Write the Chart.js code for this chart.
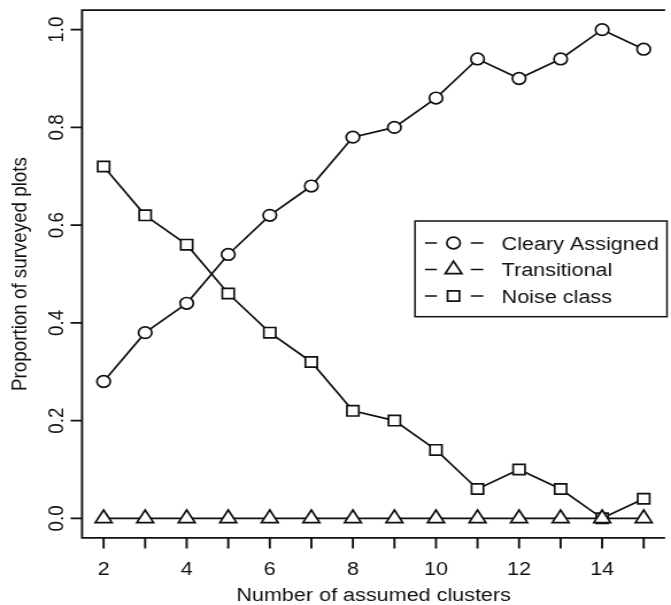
<!DOCTYPE html>
<html>
<head>
<meta charset="utf-8">
<script src="https://cdn.jsdelivr.net/npm/chart.js@4/dist/chart.umd.min.js"></script>
<style>
  html, body { margin: 0; padding: 0; background: #fff; overflow: hidden; }
  /* the reference is stretched sideways, so the canvas is drawn narrower and widened */
  #plot { display: block; width: 671px !important; height: 605px !important; }
</style>
</head>
<body>
<canvas id="plot" width="584" height="605" style="width:671px;height:605px"></canvas>
<script>
// Data
const clusters = [2, 3, 4, 5, 6, 7, 8, 9, 10, 11, 12, 13, 14, 15];
const clearlyAssigned = [0.28, 0.38, 0.44, 0.54, 0.62, 0.68, 0.78, 0.80, 0.86, 0.94, 0.90, 0.94, 1.00, 0.96];
const transitional = [0, 0, 0, 0, 0, 0, 0, 0, 0, 0, 0, 0, 0, 0];
const noiseClass = [0.72, 0.62, 0.56, 0.46, 0.38, 0.32, 0.22, 0.20, 0.14, 0.06, 0.10, 0.06, 0.00, 0.04];

const seriesNames = ['Cleary Assigned', 'Transitional', 'Noise class'];
const xTicks = [2, 3, 4, 5, 6, 7, 8, 9, 10, 11, 12, 13, 14, 15];
const xTickLabels = ['2', '', '4', '', '6', '', '8', '', '10', '', '12', '', '14', ''];
const yTicks = [0, 0.2, 0.4, 0.6, 0.8, 1.0];
const yTickLabels = ['0.0', '0.2', '0.4', '0.6', '0.8', '1.0'];
const xTitle = 'Number of assumed clusters';
const yTitle = 'Proportion of surveyed plots';

const FONT = '18.8px "Liberation Sans", Arial, Helvetica, sans-serif';
const INK = '#111';

// marker look for each series, same order as seriesNames
const markers = [
    { style: 'circle', radius: 5.8 },
    { style: 'triangle', radius: 8.4 },
    { style: 'rect', radius: 7.3 }
];

function makeSeries(i, values) {
    return {
        label: seriesNames[i],
        data: clusters.map((c, k) => ({ x: c, y: values[k] })),
        borderColor: INK,
        borderWidth: 1.7,
        tension: 0,
        fill: false,
        clip: false,
        pointStyle: markers[i].style,
        pointRadius: markers[i].radius,
        pointHoverRadius: markers[i].radius,
        pointBorderWidth: 1.7,
        pointBorderColor: INK,
        pointBackgroundColor: '#fff'
    };
}

// R style frame, ticks and axis text
const baseAxes = {
    id: 'baseAxes',
    beforeDatasetsDraw(chart) {
        const { ctx, chartArea: a, scales: { x, y } } = chart;
        ctx.save();
        ctx.strokeStyle = INK;
        ctx.lineWidth = 1.9;
        ctx.beginPath();
        ctx.moveTo(a.right + 5, a.top);
        ctx.lineTo(a.left, a.top);
        ctx.lineTo(a.left, a.bottom);
        ctx.lineTo(a.right + 5, a.bottom);
        xTicks.forEach(v => {
            const px = x.getPixelForValue(v);
            ctx.moveTo(px, a.bottom);
            ctx.lineTo(px, a.bottom + 10.7);
        });
        yTicks.forEach(v => {
            const py = y.getPixelForValue(v);
            ctx.moveTo(a.left, py);
            ctx.lineTo(a.left - 10, py);
        });
        ctx.stroke();

        ctx.fillStyle = INK;
        ctx.font = FONT;
        ctx.textAlign = 'center';
        ctx.textBaseline = 'alphabetic';
        xTicks.forEach((v, i) => {
            if (xTickLabels[i]) ctx.fillText(xTickLabels[i], x.getPixelForValue(v), 575);
        });
        ctx.fillText(xTitle, x.getPixelForValue(8.5), 601);

        yTicks.forEach((v, i) => {
            ctx.save();
            ctx.translate(55, y.getPixelForValue(v));
            ctx.rotate(-Math.PI / 2);
            ctx.fillText(yTickLabels[i], 0, 0);
            ctx.restore();
        });
        ctx.save();
        ctx.translate(23, y.getPixelForValue(0.5));
        ctx.rotate(-Math.PI / 2);
        ctx.fillText(yTitle, 0, 0);
        ctx.restore();
        ctx.restore();
    }
};

// legend with "- o -" symbols like R's type = "b"
const baseLegend = {
    id: 'baseLegend',
    afterDraw(chart) {
        const { ctx } = chart;
        const box = { left: 361.2, top: 221, right: 580.5, bottom: 316.7 };
        ctx.save();
        ctx.fillStyle = '#fff';
        ctx.fillRect(box.left, box.top, box.right - box.left, box.bottom - box.top);
        ctx.strokeStyle = INK;
        ctx.lineWidth = 1.5;
        ctx.strokeRect(box.left, box.top, box.right - box.left, box.bottom - box.top);

        chart.data.datasets.forEach((ds, i) => {
            const ry = box.top + 22 + i * 26.5;
            ctx.strokeStyle = INK;
            ctx.lineWidth = 1.7;
            ctx.beginPath();
            ctx.moveTo(369.9, ry); ctx.lineTo(380.3, ry);
            ctx.moveTo(409.7, ry); ctx.lineTo(420.6, ry);
            ctx.stroke();
            ctx.fillStyle = '#fff';
            Chart.helpers.drawPoint(ctx, {
                pointStyle: markers[i].style,
                radius: markers[i].radius,
                borderWidth: 1.7,
                rotation: 0
            }, 394.7, ry);
            ctx.fillStyle = INK;
            ctx.font = FONT;
            ctx.textAlign = 'left';
            ctx.textBaseline = 'alphabetic';
            ctx.fillText(ds.label, 436.6, ry + 6.7);
        });
        ctx.restore();
    }
};

const plotCtx = document.getElementById('plot').getContext('2d');
const plotChart = new Chart(plotCtx, {
    type: 'line',
    data: {
        datasets: [
            makeSeries(0, clearlyAssigned),
            makeSeries(1, transitional),
            makeSeries(2, noiseClass)
        ]
    },
    options: {
        responsive: false,
        animation: false,
        devicePixelRatio: 1,
        layout: { padding: { left: 71.4, top: 9.4, right: 0, bottom: 67.1 } },
        scales: {
            x: { type: 'linear', min: 1.481, max: 15.378, display: false },
            y: { type: 'linear', min: -0.04, max: 1.04, display: false }
        },
        plugins: {
            legend: { display: false },
            tooltip: { enabled: false }
        }
    },
    plugins: [baseAxes, baseLegend]
});
</script>
</body>
</html>
